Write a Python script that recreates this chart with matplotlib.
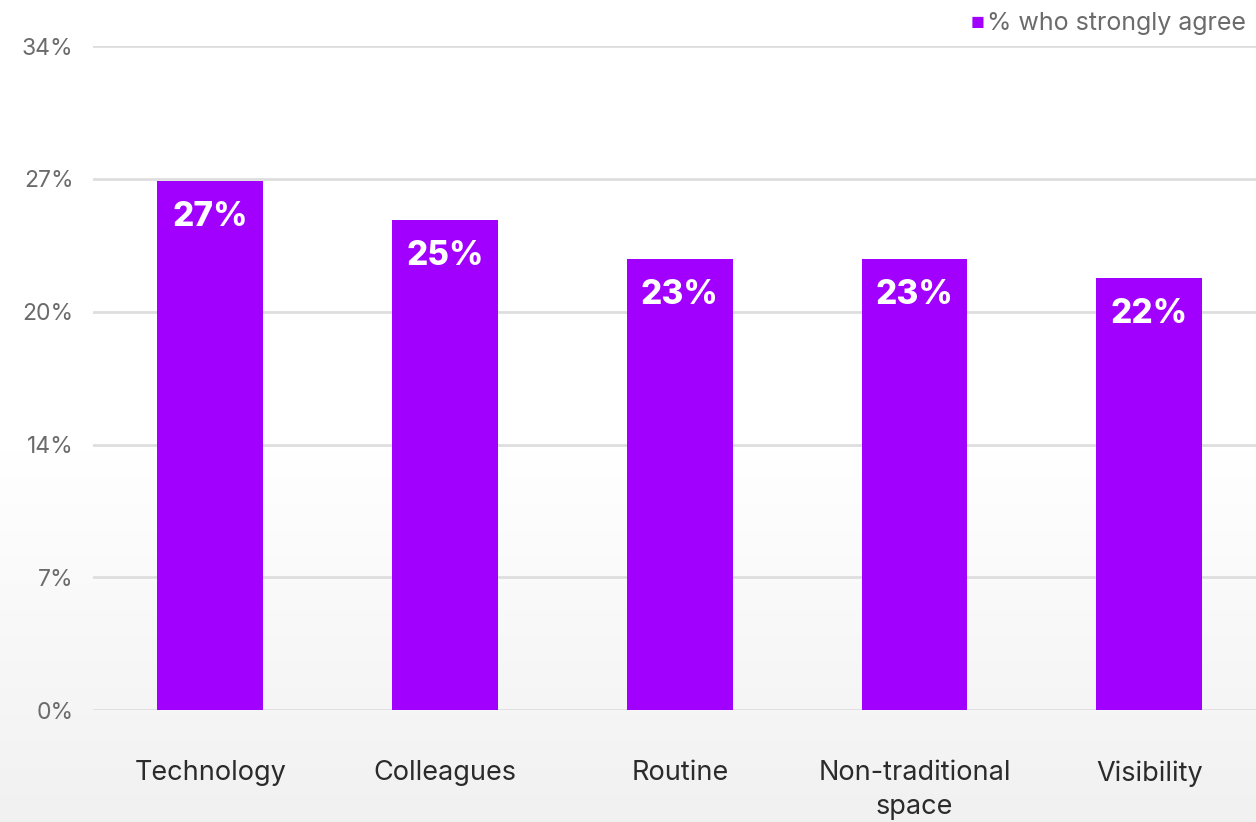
import matplotlib
matplotlib.use("Agg")
import matplotlib.pyplot as plt
import numpy as np

categories = ["Technology", "Colleagues", "Routine", "Non-traditional\nspace", "Visibility"]
values = [27.1, 25.1, 23.1, 23.1, 22.1]
bar_labels = ["27%", "25%", "23%", "23%", "22%"]
tick_values = [0, 6.8, 13.6, 20.4, 27.2, 34]
tick_labels = ["0%", "7%", "14%", "20%", "27%", "34%"]
legend_label = "% who strongly agree"

purple = "#A100FF"
plt.rcParams['font.family'] = ['Inter', 'DejaVu Sans']

fig = plt.figure(figsize=(12.56, 8.22), dpi=100)

# background gradient (vertical)
bg = fig.add_axes([0, 0, 1, 1], zorder=-10)
ys = np.linspace(0, 1, 300)  # 0 = top
shade = np.where(ys < 0.55, 1.0, 1.0 - (ys - 0.55) / 0.45 * 0.055)
img = np.repeat(shade[:, None, None], 3, axis=2)
img = np.repeat(img, 2, axis=1)
bg.imshow(img, aspect='auto', extent=[0, 1, 0, 1], vmin=0, vmax=1)
bg.axis('off')

ax = fig.add_axes([0.074, 0.136, 0.926, 0.808])
ax.patch.set_alpha(0)
x = np.arange(len(categories))
ax.bar(x, values, width=0.45, color=purple, zorder=3)
ax.set_xlim(-0.5, 4.455)
ax.set_ylim(0, 34)
ax.set_yticks(tick_values)
ax.set_yticklabels(tick_labels, fontsize=16.5, color="#6b6b6b")
ax.set_xticks(x)
ax.set_xticklabels(categories, fontsize=19.5, color="#2b2b2b", linespacing=1.4)
ax.tick_params(axis='both', length=0)
ax.tick_params(axis='y', pad=14)
ax.tick_params(axis='x', pad=36)
ax.grid(axis='y', color="#dedede", linewidth=2, zorder=0)
for s in ax.spines.values():
    s.set_visible(False)

for xi, v, t in zip(x, values, bar_labels):
    ax.annotate(t, (xi, v), xytext=(0, -36), textcoords='offset pixels',
                ha='center', va='center', color='white', fontsize=24, fontweight='heavy')

# legend
fig.text(0.7725, 0.972, "\u25a0", color=purple, fontsize=11, ha='left', va='center')
fig.text(0.7855, 0.972, legend_label, color="#6b6b6b", fontsize=18, ha='left', va='center')

fig.savefig("out.png", dpi=100)
